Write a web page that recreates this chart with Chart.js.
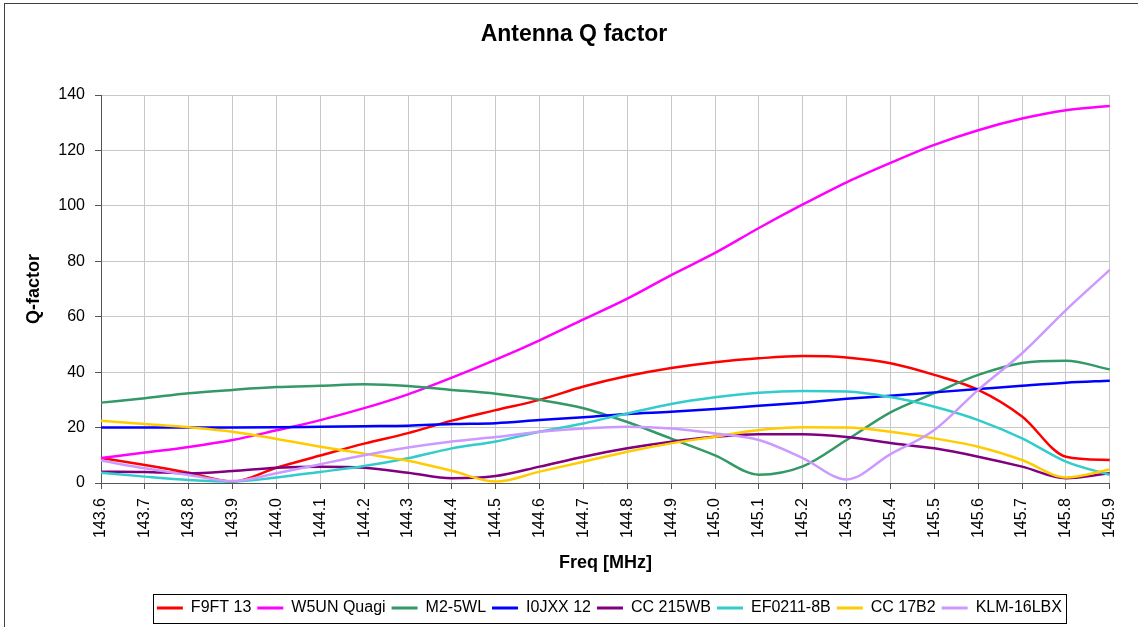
<!DOCTYPE html>
<html>
<head>
<meta charset="utf-8">
<script src="https://cdn.jsdelivr.net/npm/chart.js@4.4.1/dist/chart.umd.min.js"></script>
<style>
  html, body { margin: 0; padding: 0; background: #ffffff; }
  #wrap { width: 1138px; height: 627px; position: relative; }
</style>
</head>
<body>
<div id="wrap"><canvas id="c" width="1138" height="627"></canvas></div>
<script>
// ---- data ----
const freqLabels = ['143.6','143.7','143.8','143.9','144.0','144.1','144.2','144.3','144.4','144.5','144.6','144.7',
                    '144.8','144.9','145.0','145.1','145.2','145.3','145.4','145.5','145.6','145.7','145.8','145.9'];

const f9ft13    = [9, 6.5, 3.7, 0.5, 5.5, 9.9, 14.2, 18, 22.5, 26.3, 30, 34.8, 38.6, 41.5, 43.6, 45, 45.8, 45.3, 43.2, 39, 33.6, 24, 9.5, 8.3];
const w5unQuagi = [9, 11, 13, 15.5, 19, 22.7, 27, 32, 38, 44.5, 51.5, 59, 66.5, 75, 83, 92, 100.5, 108.5, 115.5, 122, 127.3, 131.5, 134.5, 136];
const m25wl     = [29, 30.6, 32.4, 33.6, 34.6, 35.1, 35.6, 35, 33.6, 32.2, 30, 27, 22, 16, 10, 3, 6, 15.5, 25.5, 32.4, 39, 43.3, 44.1, 41];
const i0jxx12   = [20, 20, 20, 20, 20.1, 20.3, 20.5, 20.7, 21.3, 21.6, 22.7, 23.7, 24.9, 25.7, 26.7, 27.9, 29, 30.4, 31.5, 32.7, 33.9, 35.1, 36.2, 36.9];
const cc215wb   = [4.1, 4, 3.5, 4.3, 5.5, 5.9, 5.5, 3.7, 1.7, 2.5, 5.9, 9.5, 12.5, 14.9, 16.7, 17.6, 17.6, 16.6, 14.4, 12.5, 9.5, 5.9, 1.7, 3.5];
const ef02118b  = [3.7, 2.3, 1.1, 0.5, 2, 4, 6.1, 8.9, 12.5, 15, 18.5, 21.5, 25.1, 28.5, 30.9, 32.6, 33.2, 33, 31, 27.5, 22.7, 16.1, 7.7, 2.9];
const cc17b2    = [22.5, 21.3, 20.1, 18.5, 15.9, 13.1, 10.6, 8, 4.4, 0.5, 4.1, 7.7, 11.3, 14.3, 16.7, 19.1, 20.1, 20, 18.5, 16.1, 13.1, 8.3, 2, 4.9];
const klm16lbx  = [8.1, 5.3, 2.9, 0.7, 3.5, 6.8, 10, 12.8, 15, 16.6, 18.5, 19.7, 20.3, 19.7, 17.9, 15.5, 9, 1.3, 10.4, 19.1, 33.6, 46.8, 62.4, 76.9];

const seriesNames  = ['F9FT 13', 'W5UN Quagi', 'M2-5WL', 'I0JXX 12', 'CC 215WB', 'EF0211-8B', 'CC 17B2', 'KLM-16LBX'];
const seriesValues = [f9ft13, w5unQuagi, m25wl, i0jxx12, cc215wb, ef02118b, cc17b2, klm16lbx];
const seriesColors = ['#ff0000', '#ff00ff', '#339966', '#0000ff', '#800080', '#33cccc', '#ffcc00', '#cc99ff'];

const yTicks = { min: 0, max: 140, step: 20 };

// ---- chart ----
const FONT = "'Liberation Sans', Arial, sans-serif";
Chart.defaults.font.family = FONT;
Chart.defaults.color = '#000000';

const datasets = seriesNames.map((name, i) => ({
  label: name,
  data: seriesValues[i],
  borderColor: seriesColors[i],
  backgroundColor: seriesColors[i],
  borderWidth: 2.5,
  pointRadius: 0,
  pointHoverRadius: 0,
  fill: false,
  cubicInterpolationMode: 'monotone',
  order: seriesNames.length - i
}));

const framePlugin = {
  id: 'frame',
  beforeDraw(chart) {
    const ctx = chart.ctx;
    ctx.save();
    ctx.fillStyle = '#ffffff';
    ctx.fillRect(0, 0, chart.width, chart.height);
    ctx.strokeStyle = '#404040';
    ctx.lineWidth = 1;
    ctx.strokeRect(4.5, 3.5, chart.width + 20, chart.height + 20);
    ctx.restore();
  }
};

const placePlugin = {
  id: 'place',
  afterLayout(chart) {
    if (chart.legend) {
      chart.legend.left = chart.chartArea.left + 4;
      chart.legend.right = chart.chartArea.right + 4;
    }
    if (chart.titleBlock) {
      chart.titleBlock.left = 4;
      chart.titleBlock.right = 1144;
    }
  },
  afterDraw(chart) {
    const lg = chart.legend;
    if (!lg || !lg.legendHitBoxes || !lg.legendHitBoxes.length) return;
    let minL = Infinity, maxR = -Infinity;
    lg.legendHitBoxes.forEach(h => { minL = Math.min(minL, h.left); maxR = Math.max(maxR, h.left + h.width); });
    const ctx = chart.ctx;
    ctx.save();
    ctx.strokeStyle = '#000000';
    ctx.lineWidth = 1;
    const l = Math.round(minL - 4) + 0.5, r = Math.round(maxR + 4) + 0.5;
    const t = Math.round(lg.top) + 0.5, b = Math.round(lg.top + 29) + 0.5;
    ctx.strokeRect(l, t, r - l, b - t);
    ctx.restore();
  }
};

new Chart(document.getElementById('c'), {
  type: 'line',
  data: { labels: freqLabels, datasets },
  options: {
    responsive: false,
    animation: false,
    devicePixelRatio: 1,
    layout: { padding: { left: 4, right: 20, top: 0, bottom: 1 } },
    plugins: {
      title: {
        display: true,
        text: 'Antenna Q factor',
        color: '#000000',
        font: { family: FONT, size: 23, weight: 'bold', lineHeight: 1.2 },
        padding: { top: 21, bottom: 46.4 }
      },
      legend: {
        display: true,
        position: 'bottom',
        labels: {
          boxWidth: 26,
          boxHeight: 3,
          padding: 6,
          color: '#000000',
          font: { family: FONT, size: 16 },
          generateLabels: (chart) => chart.data.datasets.map((ds, i) => ({
            text: ds.label,
            fillStyle: ds.borderColor,
            strokeStyle: ds.borderColor,
            lineWidth: 0,
            hidden: false,
            datasetIndex: i,
            fontColor: '#000000'
          }))
        }
      },
      tooltip: { enabled: false }
    },
    scales: {
      x: {
        type: 'category',
        offset: false,
        afterFit: (s) => { s.height = 111; },
        grid: { color: '#c8c8c8', tickColor: '#555555', tickLength: 6, lineWidth: 1, drawTicks: true },
        border: { color: '#555555', width: 1 },
        ticks: {
          autoSkip: false, maxRotation: 90, minRotation: 90, padding: 9,
          color: '#000000', font: { family: FONT, size: 16 }
        },
        title: {
          display: true, text: 'Freq [MHz]', color: '#000000',
          font: { family: FONT, size: 18, weight: 'bold', lineHeight: 1.2 },
          padding: { top: 0, bottom: 20 }
        }
      },
      y: {
        min: yTicks.min, max: yTicks.max,
        afterFit: (s) => { s.width = 97; },
        grid: { color: '#c8c8c8', tickColor: '#555555', tickLength: 6, lineWidth: 1 },
        border: { color: '#555555', width: 1 },
        ticks: {
          stepSize: yTicks.step, padding: 10,
          color: '#000000', font: { family: FONT, size: 16 }
        },
        title: {
          display: true, text: 'Q-factor', color: '#000000',
          font: { family: FONT, size: 18, weight: 'bold', lineHeight: 1.2 },
          padding: { top: 19, bottom: 0 }
        }
      }
    }
  },
  plugins: [framePlugin, placePlugin]
});
</script>
</body>
</html>
